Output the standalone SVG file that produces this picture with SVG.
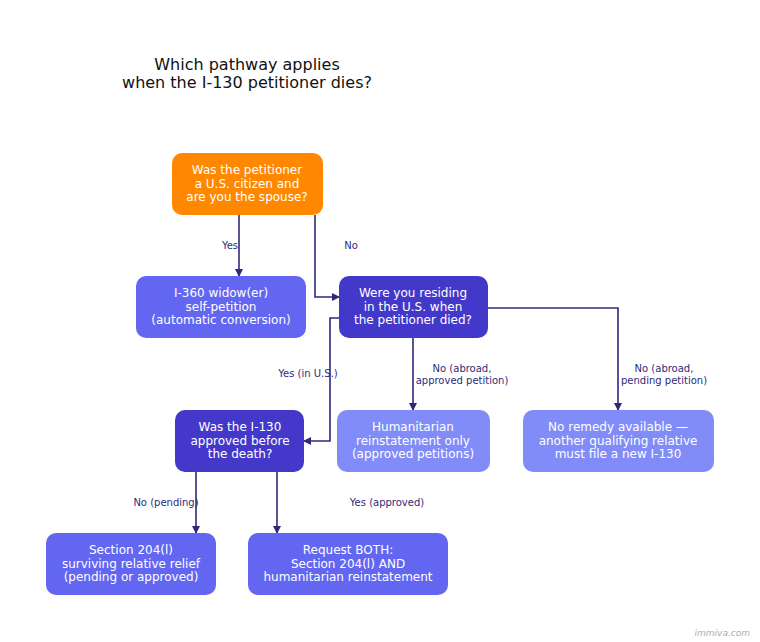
<svg xmlns="http://www.w3.org/2000/svg" width="760" height="642" viewBox="0 0 760 642">
<defs>
<marker id="ah" markerWidth="8" markerHeight="8" refX="7" refY="4" orient="auto" markerUnits="userSpaceOnUse"><path d="M0,0 L8,4 L0,8 Z" fill="#2e2a7a"/></marker>
<style>
text{font-family:"DejaVu Sans",sans-serif}
.t{fill:#fff;font-size:12px;text-anchor:middle}
.l{fill:#2e2a7a;font-size:10px;text-anchor:middle}
.c{fill:none;stroke:#2e2a7a;stroke-width:1.6;marker-end:url(#ah)}
</style>
</defs>
<rect width="760" height="642" fill="#fff"/>
<text x="247" y="70" font-size="16" text-anchor="middle" fill="#111">Which pathway applies</text>
<text x="247" y="88" font-size="16" text-anchor="middle" fill="#111">when the I-130 petitioner dies?</text>
<g id="connectors">
<path class="c" d="M239,215 V276"/>
<path class="c" d="M315,215 V297 H339"/>
<path class="c" d="M339,318 H330 V441 H304"/>
<path class="c" d="M413,338 V410"/>
<path class="c" d="M488,308 H618 V410"/>
<path class="c" d="M196,472 V533"/>
<path class="c" d="M277,472 V533"/>
<text class="l" x="230" y="249">Yes</text>
<text class="l" x="351" y="249">No</text>
<text class="l" x="308" y="377">Yes (in U.S.)</text>
<text class="l" x="462" y="372">No (abroad,</text>
<text class="l" x="462" y="384">approved petition)</text>
<text class="l" x="664" y="372">No (abroad,</text>
<text class="l" x="664" y="384">pending petition)</text>
<text class="l" x="166" y="506">No (pending)</text>
<text class="l" x="387" y="506">Yes (approved)</text>
</g>
<g id="q1"><rect x="172" y="153" width="151" height="62" rx="10" fill="#ff8800"/>
<text class="t" x="247" y="174">Was the petitioner</text><text class="t" x="247" y="188">a U.S. citizen and</text><text class="t" x="247" y="201">are you the spouse?</text></g>
<g id="i360"><rect x="136" y="276" width="170" height="62" rx="10" fill="#6366f1"/>
<text class="t" x="221" y="297">I-360 widow(er)</text><text class="t" x="221" y="311">self-petition</text><text class="t" x="221" y="324">(automatic conversion)</text></g>
<g id="q2"><rect x="339" y="276" width="149" height="62" rx="10" fill="#4338ca"/>
<text class="t" x="413" y="297">Were you residing</text><text class="t" x="413" y="311">in the U.S. when</text><text class="t" x="413" y="324">the petitioner died?</text></g>
<g id="q3"><rect x="175" y="410" width="129" height="62" rx="10" fill="#4338ca"/>
<text class="t" x="240" y="431">Was the I-130</text><text class="t" x="240" y="445">approved before</text><text class="t" x="240" y="458">the death?</text></g>
<g id="hum"><rect x="337" y="410" width="153" height="62" rx="10" fill="#818cf8"/>
<text class="t" x="413" y="431">Humanitarian</text><text class="t" x="413" y="445">reinstatement only</text><text class="t" x="413" y="458">(approved petitions)</text></g>
<g id="none"><rect x="523" y="410" width="191" height="62" rx="10" fill="#818cf8"/>
<text class="t" x="618" y="431">No remedy available —</text><text class="t" x="618" y="445">another qualifying relative</text><text class="t" x="618" y="458">must file a new I-130</text></g>
<g id="s204"><rect x="46" y="533" width="170" height="62" rx="10" fill="#6366f1"/>
<text class="t" x="131" y="554">Section 204(l)</text><text class="t" x="131" y="568">surviving relative relief</text><text class="t" x="131" y="581">(pending or approved)</text></g>
<g id="both"><rect x="248" y="533" width="200" height="62" rx="10" fill="#6366f1"/>
<text class="t" x="348" y="554">Request BOTH:</text><text class="t" x="348" y="568">Section 204(l) AND</text><text class="t" x="348" y="581">humanitarian reinstatement</text></g>
<text x="750" y="636" font-size="9" font-style="italic" fill="#aaa" text-anchor="end">immiva.com</text>
</svg>
